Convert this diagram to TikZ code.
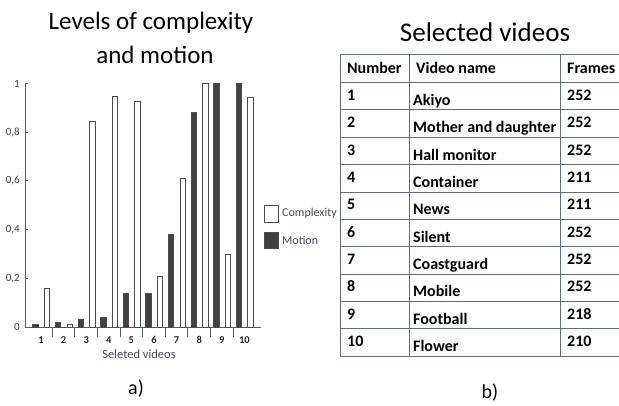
\documentclass[tikz,border=0pt]{standalone}
\usepackage{fontspec}
\setmainfont{Carlito}
\definecolor{axiscol}{RGB}{80,95,105}
\definecolor{barline}{RGB}{75,75,75}
\definecolor{motionfill}{RGB}{64,64,64}
\definecolor{gridcol}{RGB}{95,112,122}
\definecolor{labelcol}{RGB}{60,75,90}
\tikzset{
  title/.style={font=\fontsize{25}{25}\selectfont, text=black, inner sep=0pt},
  ylab/.style={font=\fontsize{11}{11}\selectfont, text=black!75, anchor=east, inner sep=0pt},
  xlab/.style={font=\fontsize{10.5}{10.5}\selectfont\bfseries, text=black!85, inner sep=0pt},
  leglab/.style={font=\fontsize{12}{12}\selectfont, text=labelcol, anchor=west, inner sep=0pt},
  cell/.style={font=\fontsize{16}{16}\selectfont\bfseries, text=black, anchor=base west, inner sep=0pt},
  axisline/.style={draw=axiscol, line width=0.9pt},
  gridline/.style={draw=gridcol, line width=0.8pt},
  cbar/.style={draw=barline, fill=white, line width=0.7pt},
  mbar/.style={draw=barline, fill=motionfill, line width=0.7pt},
  sublab/.style={font=\fontsize{20}{20}\selectfont, text=black, inner sep=0pt}
}
\begin{document}
\begin{tikzpicture}[x=1pt,y=-1pt]
\useasboundingbox (0,0) rectangle (619,405);
\fill[white] (0,0) rectangle (619,405);
% titles
\node[title, anchor=base] (t1) at (151,29) {Levels of complexity};
\node[title, anchor=base] (t2) at (155,63) {and motion};
\node[title, anchor=base, font=\fontsize{27}{27}\selectfont] (t3) at (485,41) {Selected videos};
% chart axes
\coordinate (o) at (25.5,327);
\coordinate (ytop) at (25.5,83);
\coordinate (xend) at (261,327);
\draw[axisline] (ytop) -- (o) -- (xend);
\foreach \v/\t [count=\k] in {0/0,0.2/{0,2},0.4/{0,4},0.6/{0,6},0.8/{0,8},1/1}{
  \node[ylab] (yl\k) at (20,{327-243.5*\v}) {\t};
  \draw[axisline] (25.5,{327-243.5*\v}) -- (28,{327-243.5*\v});
}
% group separators
\foreach \j in {1,...,9}{
  \draw[axisline] ({41+22.6*\j-11.3},327) -- ({41+22.6*\j-11.3},337);
}
% bars
\foreach \m/\c [count=\i] in {0.01/0.16,0.02/0.01,0.03/0.845,0.04/0.948,0.14/0.927,0.14/0.21,0.38/0.61,0.88/1.0,1.0/0.30,1.0/0.945}{
  \pgfmathsetmacro{\g}{41+22.6*(\i-1)}
  \draw[mbar] ({\g-8.2},327) rectangle ({\g-2.8},{327-243.5*\m});
  \draw[cbar] ({\g+3.3},327) rectangle ({\g+8.7},{327-243.5*\c});
  \node[xlab] (xl\i) at ({\g},340) {\i};
}
\node[leglab, anchor=center, text=labelcol, font=\fontsize{12.5}{12.5}\selectfont] (xt) at (139,354) {Seleted videos};
% legend
\draw[cbar] (264,205) rectangle (278,222);
\draw[mbar] (264,232) rectangle (278,248);
\node[leglab] (lc) at (282,213.5) {Complexity};
\node[leglab] (lm) at (282,240) {Motion};
% table
\foreach \y in {54,82.5,109.85,137.2,164.55,191.9,219.25,246.6,273.95,301.3,328.65,356}{
  \draw[gridline] (340,\y) -- (619,\y);
}
\foreach \x in {340,409,560}{
  \draw[gridline] (\x,54) -- (\x,356);
}
\node[cell] (h1) at (347,73) {Number};
\node[cell] (h2) at (416,73) {Video name};
\node[cell] (h3) at (567,73) {Frames};
\foreach \n/\f [count=\r] in {Akiyo/252,Mother and daughter/252,Hall monitor/252,Container/211,News/211,Silent/252,Coastguard/252,Mobile/252,Football/218,Flower/210}{
  \pgfmathsetmacro{\top}{82.5+27.35*(\r-1)}
  \node[cell] (n\r) at (347,{\top+18}) {\r};
  \node[cell] (v\r) at (413,{\top+23}) {\n};
  \node[cell] (f\r) at (567,{\top+18}) {\f};
}
\node[sublab] (a) at (136,389) {a)};
\node[sublab] (b) at (490,393) {b)};
\end{tikzpicture}
\end{document}
